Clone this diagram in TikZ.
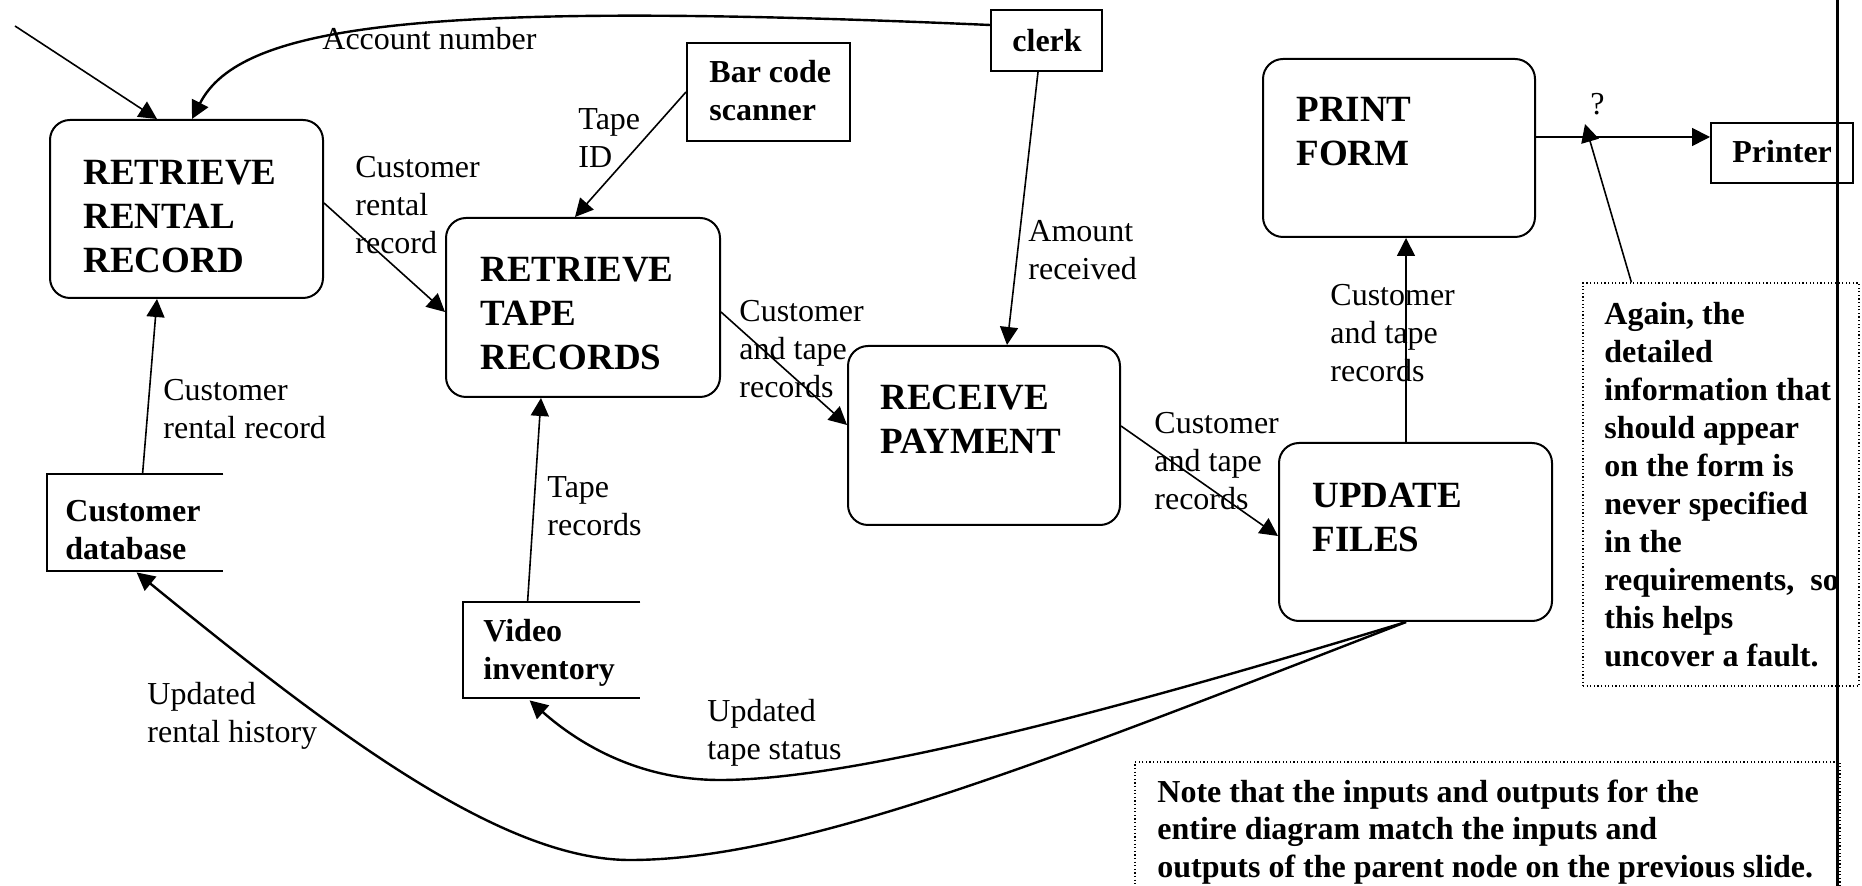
\documentclass[tikz,border=0pt]{standalone}
\usepackage{fontspec}
\setmainfont{Liberation Serif}
\usetikzlibrary{arrows.meta,calc,fit}

\begin{document}
\begin{tikzpicture}[x=0.5pt,y=-0.5pt,
  proc/.style={draw, line width=1pt, rounded corners=10pt, inner sep=0pt},
  ext/.style={draw, line width=1pt, inner sep=0pt},
  store/.style={inner sep=0pt},
  storeline/.style={line width=1pt},
  % multi-line texts are placed by the baseline of their last line
  procname/.style={anchor=base west, inner sep=0pt, align=left, font=\fontsize{18.5}{22}\selectfont\bfseries},
  boldname/.style={anchor=base west, inner sep=0pt, align=left, font=\fontsize{16}{19}\selectfont\bfseries},
  flowlabel/.style={anchor=base west, inner sep=0pt, align=left, font=\fontsize{16}{19}\selectfont},
  flow/.style={line width=0.8pt, -{Triangle[length=9pt,width=9pt]}},
  bigflow/.style={line width=1.2pt, -{Triangle[length=9pt,width=9pt]}},
  remark/.style={draw, line width=0.6pt, dash pattern=on 0.6pt off 1.2pt, inner sep=0pt},
]
\useasboundingbox[fill=white] (0,0) rectangle (1862,886);

% processes
\node[proc, fit={(50,120) (323,298)}] (rrr) {};
\node[proc, fit={(446,218) (720,397)}] (rtr) {};
\node[proc, fit={(848,346) (1120,525)}] (rp) {};
\node[proc, fit={(1279,443) (1552,621)}] (uf) {};
\node[proc, fit={(1263,59) (1535,237)}] (pf) {};
\node[procname] (rrrt) at (83,273) {RETRIEVE\\RENTAL\\RECORD};
\node[procname] (rtrt) at (480,370) {RETRIEVE\\TAPE\\RECORDS};
\node[procname] (rpt) at (880,454) {RECEIVE\\PAYMENT};
\node[procname] (uft) at (1312,552) {UPDATE\\FILES};
\node[procname] (pft) at (1296,166) {PRINT\\FORM};

% external entities
\node[ext, fit={(991,10) (1102,71)}] (clerk) {};
\node[ext, fit={(687,43) (850,141)}] (bcs) {};
\node[ext, fit={(1711,123) (1853,183)}] (prn) {};
\node[boldname] (clerkt) at (1012,52) {clerk};
\node[boldname] (bcst) at (709,121) {Bar code\\scanner};
\node[boldname] (prnt) at (1732,163) {Printer};

% data stores
\node[store, fit={(47,474) (223,571)}] (cdb) {};
\node[store, fit={(463,602) (640,698)}] (vi) {};
\draw[storeline] (cdb.north east) -- (cdb.north west) -- (cdb.south west) -- (cdb.south east);
\draw[storeline] (vi.north east) -- (vi.north west) -- (vi.south west) -- (vi.south east);
\node[boldname] (cdbt) at (65,560) {Customer\\database};
\node[boldname] (vit) at (483,680) {Video\\inventory};

% data flows
\coordinate (src) at (15,26);
\draw[flow] (src) -- ($(rrr.north west)+(108,0)$);
\draw[bigflow] ($(clerk.north west)+(0,16)$) .. controls (420,0) and (240,25) .. ($(rrr.north west)+(143,0)$);
\draw[flow] ($(bcs.north west)+(0,50)$) -- ($(rtr.north west)+(130,0)$);
\draw[flow] ($(rrr.north east)+(0,84)$) -- ($(rtr.north west)+(0,95)$);
\draw[flow] ($(cdb.north west)+(96,0)$) -- ($(rrr.south west)+(108,0)$);
\draw[flow] ($(vi.north west)+(65,0)$) -- ($(rtr.south west)+(96,0)$);
\draw[flow] ($(clerk.south west)+(48,0)$) -- ($(rp.north west)+(160,0)$);
\draw[flow] ($(rtr.north east)+(0,95)$) -- ($(rp.north west)+(0,80)$);
\draw[flow] ($(rp.north east)+(0,81)$) -- ($(uf.north west)+(0,94)$);
\draw[flow] ($(uf.north west)+(128,0)$) -- ($(pf.south west)+(144,0)$);
\draw[flow] ($(pf.north east)+(0,79)$) -- ($(prn.north west)+(0,15)$);
\draw[bigflow] ($(uf.south west)+(128,0)$) .. controls (1100,715) and (850,780) .. (720,780)
  .. controls (640,780) and (580,745) .. ($(vi.south west)+(67,2)$);
\draw[bigflow] ($(uf.south west)+(128,0)$) .. controls (1050,760) and (800,860) .. (630,860)
  .. controls (500,860) and (330,730) .. ($(cdb.south west)+(90,1)$);

% flow labels
\node[flowlabel] (l1) at (322,50) {Account number};
\node[flowlabel] (l2) at (578,168) {Tape\\ID};
\node[flowlabel] (l3) at (355,254) {Customer\\rental\\record};
\node[flowlabel] (l4) at (163,439) {Customer\\rental record};
\node[flowlabel] (l5) at (547,536) {Tape\\records};
\node[flowlabel] (l6) at (1028,280) {Amount\\received};
\node[flowlabel] (l7) at (739,398) {Customer\\and tape\\records};
\node[flowlabel] (l8) at (1154,510) {Customer\\and tape\\records};
\node[flowlabel] (l9) at (1330,382) {Customer\\and tape\\records};
\node[flowlabel] (l10) at (1590,115) {?};
\node[flowlabel] (l11) at (707,759) {Updated\\tape status};
\node[flowlabel] (l12) at (147,742) {Updated\\rental history};

% remarks
\node[remark, fit={(1583,283) (1859,686)}] (again) {};
\node[boldname] (againt) at (1604,667) {Again, the\\detailed\\information that\\should appear\\on the form is\\never specified\\in the\\requirements,\ \ so\\this helps\\uncover a fault.};
\coordinate (qtip) at (1585,124);
\draw[flow] ($(again.north west)+(49,0)$) -- (qtip);
\node[remark, fit={(1135,762) (1840,930)}] (nbox) {};
\node[boldname, font=\fontsize{16}{18.75}\selectfont\bfseries] (nboxt) at (1157,877) {Note that the inputs and outputs for the\\entire diagram match the inputs and\\outputs of the parent node on the previous slide.};

% page edge rule
\draw[line width=1.5pt] (1837,0) -- (1837,886);
\end{tikzpicture}
\end{document}
